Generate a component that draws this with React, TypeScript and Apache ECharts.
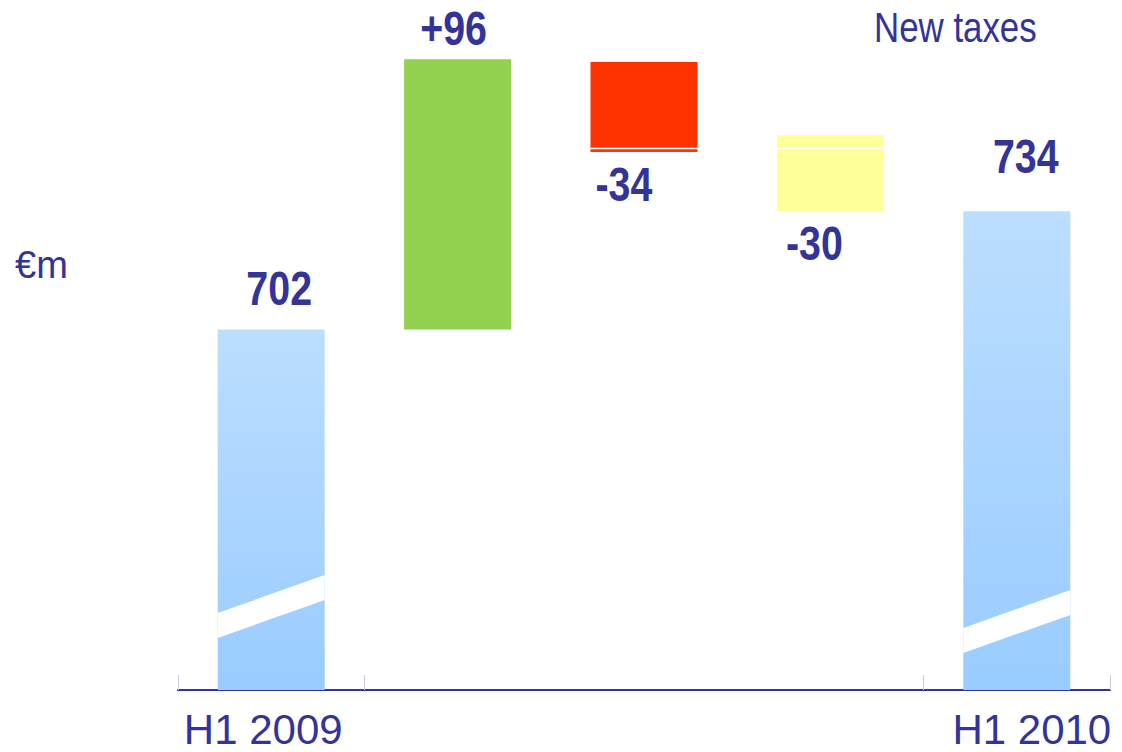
import React, { useEffect, useRef } from "react";
import * as echarts from "echarts";

// ---- data ----
const categories = ["H1 2009", "Increase", "Decrease", "New taxes", "H1 2010"];
const tickLabels = ["H1 2009", "", "", "", "H1 2010"];
const valueLabels = ["702", "+96", "-34", "-30", "734"];
const barBase: (number | null)[] = [null, 702, 765, 744, null];
const barTop = [702, 798, 797, 771, 744];
const ruleValue = 766.3;
const ruleFrom = 2;
const ruleTo = 3;
const unitLabel = "€m";
const noteLabel = "New taxes";

// ---- styles ----
const Y_MIN = 574;
const Y_MAX = 819;
const NAVY = "#333399";
const FONT = '"Liberation Sans Narrow", "Arial Narrow", "Liberation Sans", Arial, sans-serif';
const NARROW = 0.82;
const BAR_W = 107;
const DIGIT_H = 34;
const BREAK_RISE = 38;
const BREAK_T = 25;
const breakLift: (number | null)[] = [52, null, null, null, 37];
const totalGradient = () =>
  new echarts.graphic.LinearGradient(0, 0, 0, 1, [
    { offset: 0, color: "#BCDEFF" },
    { offset: 1, color: "#99CCFF" },
  ]);
const barFills: any[] = [null, "#92D050", "#FF3300", "#FFFF99", null];
const labelPlace = [
  { side: "top", align: "center", dx: 8, gap: 27 },
  { side: "top", align: "center", dx: -4, gap: 17 },
  { side: "bottom", align: "left", dx: 5, gap: 12 },
  { side: "bottom", align: "center", dx: -16, gap: 12 },
  { side: "top", align: "center", dx: 9, gap: 41 },
];

export default function App() {
  const ref = useRef<HTMLDivElement>(null);
  useEffect(() => {
    if (!ref.current) return;
    const chart = echarts.init(ref.current, undefined, { renderer: "svg" });
    const barData = categories.map((_, i) => [
      i,
      barBase[i] == null ? Y_MIN : (barBase[i] as number),
      barTop[i],
    ]);
    const option: any = {
      animation: false,
      backgroundColor: "#ffffff",
      grid: { left: 178, right: 12, top: 0, bottom: 62, containLabel: false },
      xAxis: {
        type: "category",
        data: categories,
        boundaryGap: true,
        axisLine: { lineStyle: { color: NAVY, width: 2 } },
        axisTick: {
          show: true,
          inside: true,
          length: 15,
          interval: (i: number) => i === 0 || i === 1 || i === 4,
          lineStyle: { color: "#CCCCE6", width: 1 },
        },
        axisLabel: {
          interval: 0,
          margin: 18,
          formatter: (_v: string, i: number) =>
            tickLabels[i] ? `{${i === 0 ? "a" : "b"}|${tickLabels[i]}}` : "",
          rich: {
            a: { fontFamily: FONT, fontSize: 42, color: NAVY, padding: [0, 16, 0, 0] },
            b: { fontFamily: FONT, fontSize: 42, color: NAVY, padding: [0, 0, 0, 30] },
          },
        },
        splitLine: { show: false },
      },
      yAxis: { type: "value", min: Y_MIN, max: Y_MAX, show: false },
      graphic: [
        {
          type: "text",
          x: 15,
          y: 265,
          style: {
            text: unitLabel,
            fontFamily: FONT,
            fontSize: 38,
            fill: NAVY,
            textVerticalAlign: "middle",
          },
        },
        {
          type: "text",
          x: 874,
          y: 27,
          scaleX: 0.83,
          style: {
            text: noteLabel,
            fontFamily: FONT,
            fontSize: 42,
            fill: NAVY,
            textVerticalAlign: "middle",
          },
        },
      ],
      series: [
        {
          type: "custom",
          data: barData,
          renderItem: (params: any, api: any) => {
            const i = api.value(0);
            const b = api.value(1);
            const t = api.value(2);
            const pT = api.coord([i, t]);
            const pB = api.coord([i, b]);
            const cx = pT[0];
            const x0 = cx - BAR_W / 2;
            const x1 = cx + BAR_W / 2;
            const children: any[] = [
              {
                type: "rect",
                shape: { x: x0, y: pT[1], width: BAR_W, height: pB[1] - pT[1] },
                style: { fill: barFills[i] ?? totalGradient() },
              },
            ];
            const lift = breakLift[i];
            if (lift != null) {
              const yb = pB[1] - lift;
              children.push({
                type: "polygon",
                shape: {
                  points: [
                    [x0, yb],
                    [x1, yb - BREAK_RISE],
                    [x1, yb - BREAK_RISE - BREAK_T],
                    [x0, yb - BREAK_T],
                  ],
                },
                style: { fill: "#ffffff" },
              });
            }
            const lp = labelPlace[i];
            const cy =
              lp.side === "top"
                ? pT[1] - lp.gap - DIGIT_H / 2
                : pB[1] + lp.gap + DIGIT_H / 2;
            const lx = lp.align === "left" ? x0 + lp.dx : cx + lp.dx;
            children.push({
              type: "text",
              x: lx,
              y: cy + 3,
              scaleX: NARROW,
              style: {
                text: valueLabels[i],
                fontFamily: FONT,
                fontWeight: "bold",
                fontSize: 48,
                fill: NAVY,
                textAlign: lp.align,
                textVerticalAlign: "middle",
              },
            });
            return { type: "group", children };
          },
        },
        {
          type: "custom",
          data: [[ruleFrom, ruleTo, ruleValue]],
          z: 5,
          renderItem: (params: any, api: any) => {
            const a = api.coord([api.value(0), api.value(2)]);
            const c = api.coord([api.value(1), api.value(2)]);
            return {
              type: "line",
              shape: { x1: a[0] - BAR_W / 2, y1: a[1], x2: c[0] + BAR_W / 2, y2: c[1] },
              style: { stroke: "#ffffff", lineWidth: 1.5 },
            };
          },
        },
      ],
    };
    chart.setOption(option);
    return () => chart.dispose();
  }, []);
  return (
    <div
      ref={ref}
      style={{ position: "fixed", left: 0, top: 0, width: 1122, height: 752 }}
    />
  );
}
